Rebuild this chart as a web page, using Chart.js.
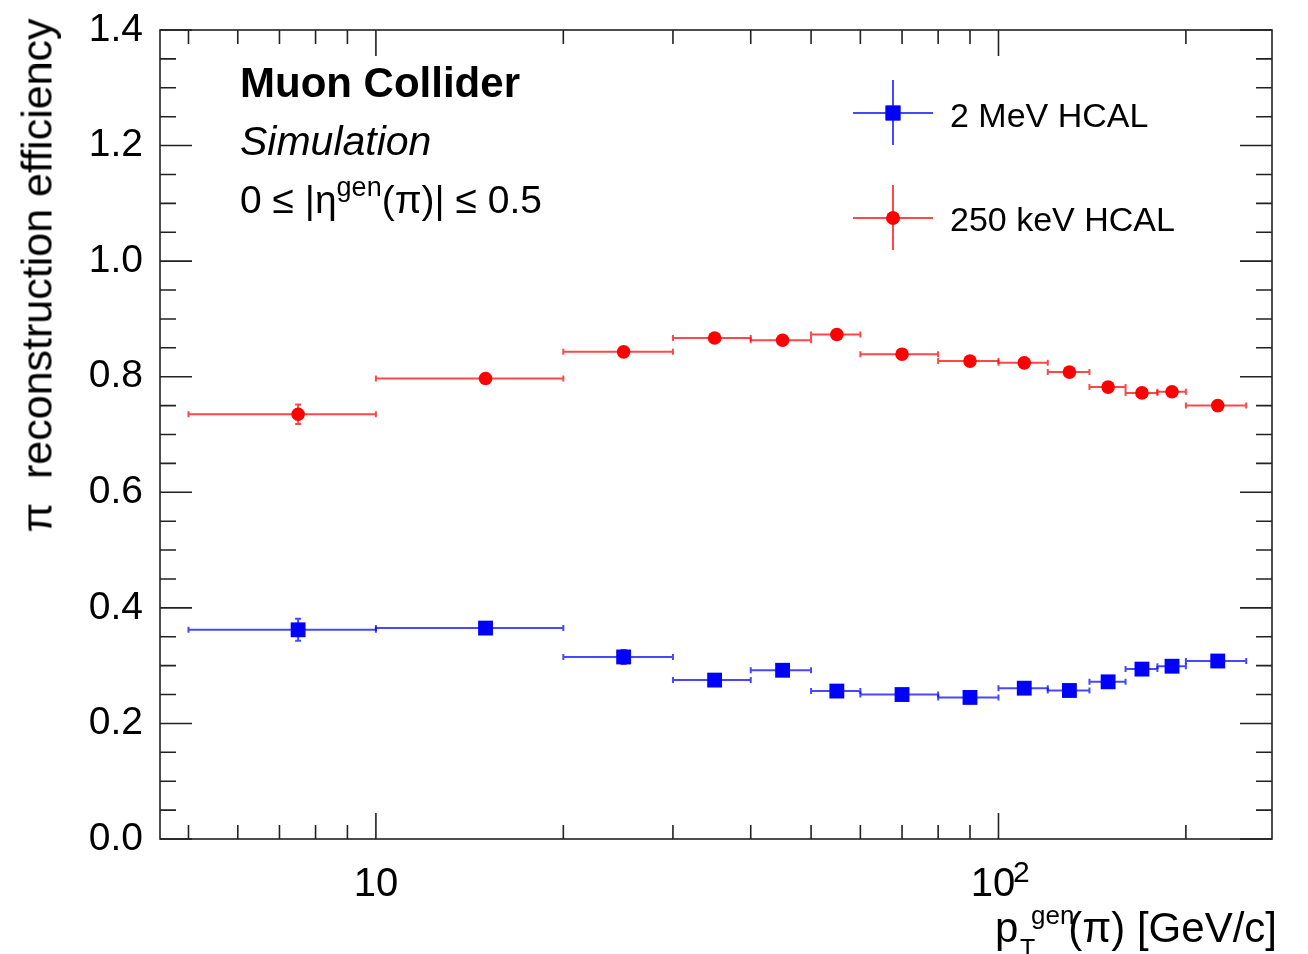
<!DOCTYPE html>
<html>
<head>
<meta charset="utf-8">
<script src="https://cdn.jsdelivr.net/npm/chart.js@4.4.1/dist/chart.umd.min.js"></script>
<style>
  body { margin: 0; background: #fff; }
  #wrap { position: relative; width: 1308px; height: 954px; font-family: 'Liberation Sans', Arial, sans-serif; color: #000; overflow: hidden; }
  #c { position: absolute; left: 0; top: 0; }
  .txt { position: absolute; white-space: nowrap; line-height: 1; }
  .sup { font-size: 27px; position: relative; top: -0.62em; }
</style>
</head>
<body>
<div id="wrap">
  <canvas id="c" width="1308" height="954"></canvas>
  <div class="txt" style="left:240px;top:62px;font-size:42px;font-weight:bold;">Muon Collider</div>
  <div class="txt" style="left:240px;top:121px;font-size:41px;font-style:italic;">Simulation</div>
  <div class="txt" style="left:240px;top:180px;font-size:39px;">0 ≤ |η<span class="sup">gen</span>(π)| ≤ 0.5</div>
  <div class="txt" style="left:950px;top:98px;font-size:34px;">2 MeV HCAL</div>
  <div class="txt" style="left:950px;top:202px;font-size:34px;">250 keV HCAL</div>
  <!-- exponent of the 10^2 tick label -->
  <div class="txt" style="left:1013px;top:857px;font-size:30px;">2</div>
  <!-- x title pieces: p, sub T, sup gen, rest -->
  <div class="txt" style="left:995px;top:907px;font-size:42px;">p</div>
  <div class="txt" style="left:1020px;top:936px;font-size:25px;">T</div>
  <div class="txt" style="left:1031px;top:902px;font-size:26px;">gen</div>
  <div class="txt" style="right:31px;top:907px;font-size:42px;">(π) [GeV/c]</div>
  <div class="txt" style="left:-263px;top:254px;width:600px;height:43px;line-height:43px;font-size:43px;text-align:center;transform:rotate(-90deg);">π&nbsp; reconstruction efficiency</div>
</div>
<script>
// pT bins (GeV/c)
var binLow  = [5, 10, 20, 30, 40, 50, 60, 80, 100, 120, 140, 160, 180, 200];
var binHigh = [10, 20, 30, 40, 50, 60, 80, 100, 120, 140, 160, 180, 200, 250];
var binCenter = [7.5, 15, 25, 35, 45, 55, 70, 90, 110, 130, 150, 170, 190, 225];

// efficiencies
var eff2MeV   = [0.362, 0.365, 0.315, 0.275, 0.292, 0.256, 0.250, 0.245, 0.261, 0.257, 0.272, 0.294, 0.299, 0.308];
var err2MeV   = [0.019, 0.008, 0.012, 0.008, 0.008, 0.008, 0.007, 0.008, 0.008, 0.008, 0.008, 0.008, 0.008, 0.008];
var eff250keV = [0.735, 0.797, 0.843, 0.867, 0.863, 0.873, 0.839, 0.827, 0.824, 0.808, 0.782, 0.772, 0.774, 0.750];
var err250keV = [0.017, 0.006, 0.007, 0.007, 0.007, 0.007, 0.006, 0.006, 0.006, 0.006, 0.006, 0.006, 0.006, 0.006];

var xTickValues = [5, 6, 7, 8, 9, 10, 20, 30, 40, 50, 60, 70, 80, 90, 100, 200];
var xMajor = [10, 100];
// the trailing space leaves room for the exponent "2" placed after "10"
var xTickLabels = { 10: '10', 100: '10 ' };

var fontFamily = "'Liberation Sans', Arial, sans-serif";

function makePoints(ys)
{
  return binCenter.map(function(x, i) { return { x: x, y: ys[i] }; });
}

var series = [
  { label: '2 MeV HCAL', y: eff2MeV, err: err2MeV, color: 'rgb(0,0,255)', line: 'rgba(0,0,255,0.72)', style: 'rect', radius: 10.5 },
  { label: '250 keV HCAL', y: eff250keV, err: err250keV, color: 'rgb(255,0,0)', line: 'rgba(255,0,0,0.72)', style: 'circle', radius: 6.8 }
];

// error bars with small end caps, under the markers
var errorBars = {
  id: 'errorBars',
  beforeDatasetsDraw: function(chart)
  {
    var ctx = chart.ctx, xs = chart.scales.x, ys = chart.scales.y;
    ctx.save();
    ctx.lineWidth = 2;
    series.forEach(function(s) {
      ctx.strokeStyle = s.line;
      for (var i = 0; i < binCenter.length; i++)
      {
        var y = ys.getPixelForValue(s.y[i]);
        var x = xs.getPixelForValue(binCenter[i]);
        var x1 = xs.getPixelForValue(binLow[i]);
        var x2 = xs.getPixelForValue(binHigh[i]);
        var yUp = ys.getPixelForValue(s.y[i] + s.err[i]);
        var yDn = ys.getPixelForValue(s.y[i] - s.err[i]);
        ctx.beginPath();
        ctx.moveTo(x1, y); ctx.lineTo(x2, y);
        ctx.moveTo(x1, y - 3); ctx.lineTo(x1, y + 3);
        ctx.moveTo(x2, y - 3); ctx.lineTo(x2, y + 3);
        ctx.moveTo(x, yUp); ctx.lineTo(x, yDn);
        ctx.moveTo(x - 3, yUp); ctx.lineTo(x + 3, yUp);
        ctx.moveTo(x - 3, yDn); ctx.lineTo(x + 3, yDn);
        ctx.stroke();
      }
    });
    ctx.restore();
  }
};

// ROOT style frame: box with inward ticks on all four sides, plus legend symbols
var rootFrame = {
  id: 'rootFrame',
  afterDraw: function(chart)
  {
    var ctx = chart.ctx, a = chart.chartArea, xs = chart.scales.x, ys = chart.scales.y;
    ctx.save();
    ctx.strokeStyle = '#222';
    ctx.lineWidth = 1.6;
    ctx.strokeRect(a.left, a.top, a.right - a.left, a.bottom - a.top);

    ctx.beginPath();
    for (var k = 0; k <= 28; k++)
    {
      var v = k * 0.05;
      var py = ys.getPixelForValue(v);
      var len = (k % 4 == 0) ? 32 : 16;
      ctx.moveTo(a.left, py); ctx.lineTo(a.left + len, py);
      ctx.moveTo(a.right, py); ctx.lineTo(a.right - len, py);
    }
    xTickValues.forEach(function(v) {
      var px = xs.getPixelForValue(v);
      var len = xMajor.indexOf(v) >= 0 ? 26 : 14;
      ctx.moveTo(px, a.bottom); ctx.lineTo(px, a.bottom - len);
      ctx.moveTo(px, a.top); ctx.lineTo(px, a.top + len);
    });
    ctx.stroke();

    // legend entries
    var legendY = [113, 218];
    series.forEach(function(s, i) {
      var cx = 893, cy = legendY[i];
      ctx.strokeStyle = s.line;
      ctx.lineWidth = 2;
      ctx.beginPath();
      ctx.moveTo(853, cy); ctx.lineTo(933, cy);
      ctx.moveTo(cx, cy - 33); ctx.lineTo(cx, cy + 32);
      ctx.stroke();
      ctx.fillStyle = s.color;
      Chart.helpers.drawPoint(ctx, { pointStyle: s.style, radius: s.radius, rotation: 0, borderWidth: 0 }, cx, cy);
      ctx.fill();
    });
    ctx.restore();
  }
};

new Chart(document.getElementById('c'), {
  type: 'scatter',
  data: {
    datasets: series.map(function(s) {
      return {
        label: s.label,
        data: makePoints(s.y),
        pointStyle: s.style,
        pointRadius: s.radius,
        backgroundColor: s.color,
        borderColor: s.color,
        borderWidth: 0,
        showLine: false
      };
    })
  },
  options: {
    responsive: false,
    animation: false,
    layout: { padding: { top: 30, right: 36, left: 0, bottom: 0 } },
    plugins: { legend: { display: false }, tooltip: { enabled: false } },
    scales: {
      x: {
        type: 'logarithmic',
        min: 4.5,
        max: 275,
        bounds: 'data',
        grid: { display: false, drawTicks: false },
        border: { display: false },
        afterBuildTicks: function(scale) {
          scale.ticks = xTickValues.map(function(v) { return { value: v }; });
        },
        afterFit: function(scale) {
          scale.height = 115;
          scale.paddingLeft = 0;
          scale.paddingRight = 0;
        },
        ticks: {
          autoSkip: false,
          maxRotation: 0,
          padding: 22,
          color: '#000',
          font: { family: fontFamily, size: 40 },
          callback: function(value) { return xTickLabels[value] || ''; }
        }
      },
      y: {
        min: 0,
        max: 1.4,
        grid: { display: false, drawTicks: false },
        border: { display: false },
        afterFit: function(scale) {
          scale.width = 160;
          scale.paddingTop = 0;
          scale.paddingBottom = 0;
        },
        ticks: {
          stepSize: 0.2,
          padding: 17,
          color: '#000',
          font: { family: fontFamily, size: 39 },
          callback: function(value) { return value.toFixed(1); }
        }
      }
    }
  },
  plugins: [errorBars, rootFrame]
});
</script>
</body>
</html>
